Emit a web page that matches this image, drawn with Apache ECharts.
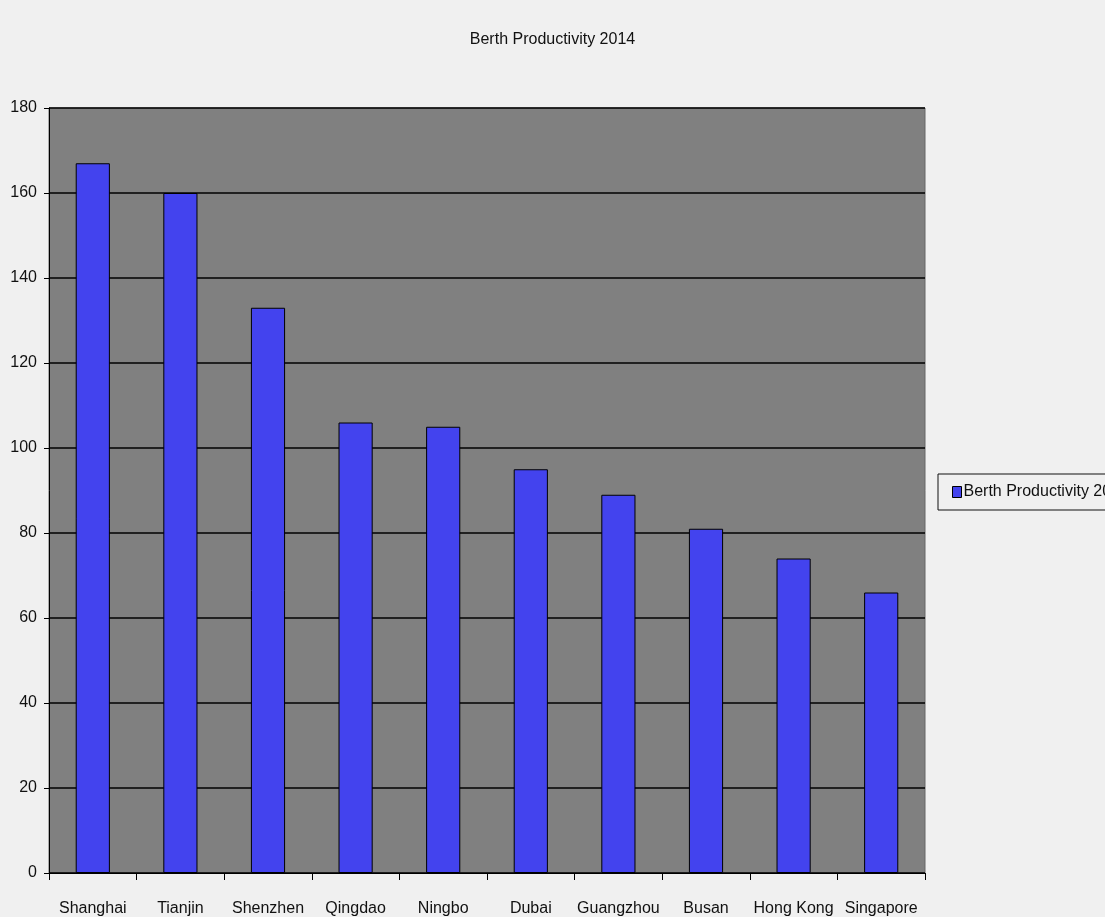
<!DOCTYPE html>
<html>
<head>
<meta charset="utf-8">
<script src="https://cdn.jsdelivr.net/npm/echarts@6/dist/echarts.min.js"></script>
<style>
  html, body { margin: 0; padding: 0; background: #f0f0f0; }
  #main { width: 1105px; height: 917px; }
</style>
</head>
<body>
<div id="main"></div>
<script>
// ports and their berth productivity
const ports = ['Shanghai', 'Tianjin', 'Shenzhen', 'Qingdao', 'Ningbo', 'Dubai', 'Guangzhou', 'Busan', 'Hong Kong', 'Singapore']
const productivity = [167, 160, 133, 106, 105, 95, 89, 81, 74, 66]
const seriesName = 'Berth Productivity 2014'

const font = "'Liberation Sans Narrow', 'Arial Narrow', 'Liberation Sans', Arial, sans-serif"

let chart = echarts.init(document.getElementById('main'), null, { renderer: 'canvas' })

chart.setOption({
  backgroundColor: '#f0f0f0',
  animation: false,
  title: {
    text: 'Berth Productivity 2014',
    left: 'center',
    top: 27,
    textStyle: { fontFamily: font, fontSize: 16, fontWeight: 'normal', color: '#111' }
  },
  legend: {
    left: 938,
    top: 474,
    orient: 'vertical',
    borderColor: '#111',
    borderWidth: 1,
    padding: [10, 10, 10, 14],
    icon: 'rect',
    itemWidth: 9,
    itemHeight: 11,
    itemGap: 0,
    itemStyle: { borderColor: '#000', borderWidth: 1 },
    textStyle: { fontFamily: font, fontSize: 16, color: '#111', padding: [0, 0, 0, -3] },
    data: [seriesName]
  },
  grid: {
    left: 49,
    right: 180,
    top: 108,
    bottom: 43,
    show: true,
    backgroundColor: '#808080',
    borderColor: '#666',
    borderWidth: 1,
    containLabel: false
  },
  xAxis: {
    type: 'category',
    data: ports,
    boundaryGap: true,
    axisLine: { lineStyle: { color: '#000', width: 1 } },
    axisTick: { show: true, length: 7, lineStyle: { color: '#000' } },
    axisLabel: {
      interval: 0,
      margin: 28,
      fontFamily: font,
      fontSize: 16,
      color: '#111'
    }
  },
  yAxis: {
    type: 'value',
    min: 0,
    max: 180,
    interval: 20,
    axisLine: { show: true, lineStyle: { color: '#000', width: 1 } },
    axisTick: { show: true, length: 5, lineStyle: { color: '#000' } },
    axisLabel: { margin: 12, fontFamily: font, fontSize: 16, color: '#111' },
    splitLine: { show: true, lineStyle: { color: '#000', width: 1.5 } }
  },
  series: [{
    name: seriesName,
    type: 'bar',
    data: productivity,
    barWidth: '39%',
    itemStyle: {
      color: '#4343ee',
      borderColor: '#000',
      borderWidth: 1
    }
  }]
})
</script>
</body>
</html>
